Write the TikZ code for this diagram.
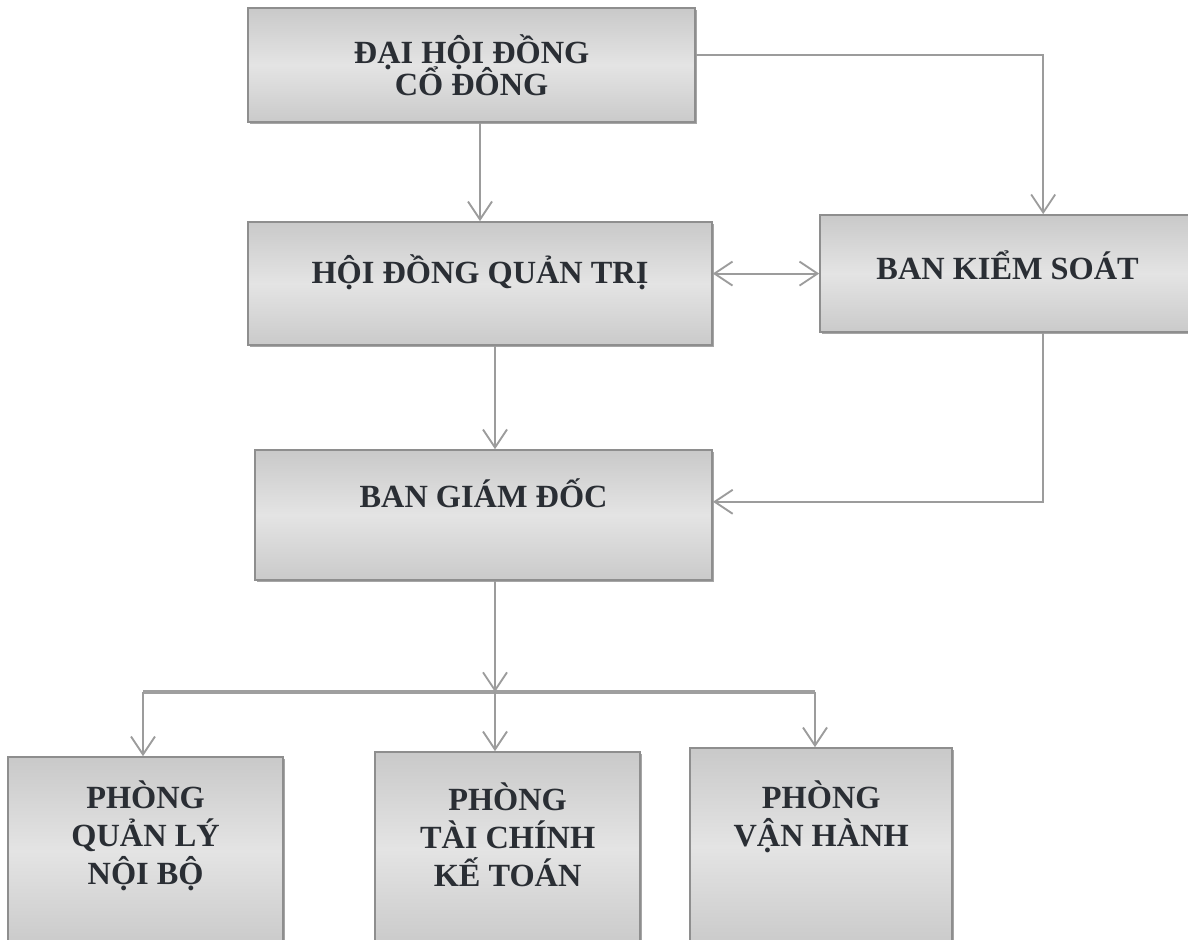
\documentclass[tikz,border=0pt]{standalone}
\usepackage{fontspec}
\setmainfont{Liberation Serif}
\usepackage{xcolor}
\usepackage{tikz}
\usetikzlibrary{arrows.meta,shadows}

\definecolor{boxline}{HTML}{8E8E8E}
\definecolor{boxtop}{HTML}{C9C9C9}
\definecolor{boxmid}{HTML}{E4E4E4}
\definecolor{boxbot}{HTML}{CACACA}
\definecolor{ink}{HTML}{2A2E34}
\definecolor{wire}{HTML}{9C9C9C}
\newcommand{\tightlines}{\lineskiplimit=-30pt\relax}

\begin{document}
\begin{tikzpicture}[box/.style={draw=boxline, line width=1.2pt, top color=boxtop, bottom color=boxbot, middle color=boxmid, text=ink, align=center, drop shadow={shadow xshift=1.2pt, shadow yshift=-1.2pt, fill=gray!70, opacity=1}, font=\bfseries\fontsize{23}{22.5}\selectfont\tightlines},
dept/.style={box, font=\bfseries\fontsize{23}{27}\selectfont},
link/.style={draw=wire, line width=1.4pt, -{Straight Barb[length=4.5mm,width=6mm,line width=1.3pt]}},
both/.style={link, {Straight Barb[length=4.5mm,width=6mm,line width=1.3pt]}-{Straight Barb[length=4.5mm,width=6mm,line width=1.3pt]}},
bar/.style={draw=gray!75, line width=3.5pt}]
% Frame
\useasboundingbox (0,0) rectangle (29.7,23.5);
\fill[white] (0,0) rectangle (29.7,23.5);
% Boxes
\node[box, minimum width=11.18cm, minimum height=2.85cm] (dhdcd) at (11.79,21.875) {ĐẠI HỘI ĐỒNG\\CỔ ĐÔNG};
\node[box, minimum width=11.6cm, minimum height=3.08cm, text depth=0.7cm] (hdqt) at (12.0,16.41) {HỘI ĐỒNG QUẢN TRỊ};
\node[box, minimum width=9.38cm, minimum height=2.93cm, text depth=0.4cm] (bks) at (25.19,16.66) {BAN KIỂM SOÁT};
\node[box, minimum width=11.43cm, minimum height=3.25cm, text depth=1.1cm] (bgd) at (12.09,10.625) {BAN GIÁM ĐỐC};
\node[dept, minimum width=6.88cm, minimum height=4.7cm, text depth=0.92cm] (qlnb) at (3.64,2.225) {PHÒNG\\QUẢN LÝ\\NỘI BỘ};
\node[dept, minimum width=6.63cm, minimum height=4.825cm, text depth=0.68cm] (tckt) at (12.69,2.2875) {PHÒNG\\TÀI CHÍNH\\KẾ TOÁN};
\node[dept, minimum width=6.55cm, minimum height=4.925cm, text depth=1.63cm] (vh) at (20.53,2.3375) {PHÒNG\\VẬN HÀNH};
% Bus
\coordinate (bus) at (12.375,6.2);
\coordinate (busl) at (3.575,6.2);
\coordinate (busr) at (20.375,6.2);
% Arrows
\draw[link] (hdqt.north |- dhdcd.south) -- (hdqt.north);
\draw[link] ([yshift=0.25cm]dhdcd.east) -| ([xshift=0.89cm]bks.north);
\draw[both] (hdqt.east |- bks.west) -- (bks.west);
\draw[link] ([xshift=0.375cm]hdqt.south) -- ([xshift=0.375cm]hdqt.south |- bgd.north);
\draw[link] ([xshift=0.89cm]bks.south) |- ([yshift=0.33cm]bgd.east);
\draw[link] ([xshift=0.285cm]bgd.south) -- (bus);
\draw[bar] (busl) -- (busr);
\draw[link] (busl) -- (busl |- qlnb.north);
\draw[link] (bus) -- (bus |- tckt.north);
\draw[link] (busr) -- (busr |- vh.north);
\end{tikzpicture}
\end{document}
